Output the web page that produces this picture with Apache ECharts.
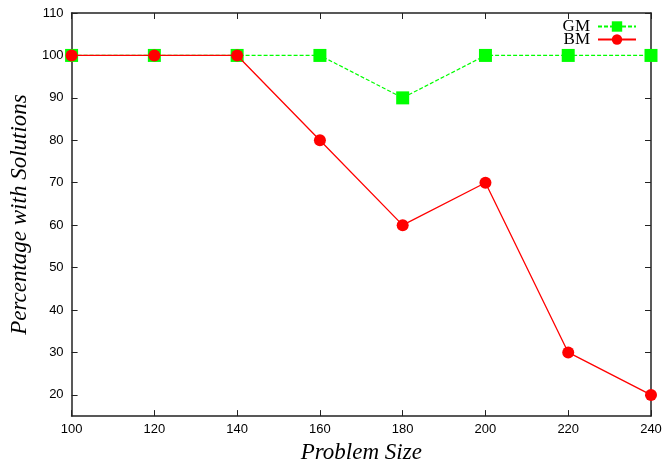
<!DOCTYPE html>
<html>
<head>
<meta charset="utf-8">
<script src="https://cdn.jsdelivr.net/npm/echarts@6/dist/echarts.min.js"></script>
<style>html,body{margin:0;padding:0;background:#fff;}#c{width:665px;height:469px;}</style>
</head>
<body>
<div id="c"></div>
<script>
var problemSizes = [100, 120, 140, 160, 180, 200, 220, 240];
var gmValues = [100, 100, 100, 100, 90, 100, 100, 100];
var bmValues = [100, 100, 100, 80, 60, 70, 30, 20];
var yTicks = [20, 30, 40, 50, 60, 70, 80, 90, 100, 110];

function pairs(xs, ys) { return xs.map(function (x, i) { return [x, ys[i]]; }); }

var chart = echarts.init(document.getElementById('c'), null, { renderer: 'canvas' });
var axisCol = '#222';
var tickStyle = { show: true, inside: true, length: 6, lineStyle: { color: axisCol, width: 1 } };
chart.setOption({
  animation: false,
  backgroundColor: '#fff',
  grid: { left: 70, right: 14, top: 13, bottom: 44, containLabel: false },
  legend: {
    orient: 'vertical', right: 23, top: 13, align: 'right', itemGap: -4,
    itemWidth: 38, itemHeight: 13,
    textStyle: { fontFamily: 'Liberation Serif', fontSize: 17, color: '#000', padding: [0, 3, 0, 0] },
    data: ['GM', 'BM']
  },
  xAxis: [{
    type: 'value', min: 100, max: 240, interval: 20, position: 'bottom',
    name: 'Problem Size', nameLocation: 'middle', nameGap: 24,
    nameTextStyle: { fontFamily: 'Liberation Serif', fontStyle: 'italic', fontSize: 23, color: '#000' },
    axisLine: { show: true, onZero: false, lineStyle: { color: axisCol, width: 1.5 } },
    axisTick: tickStyle, splitLine: { show: false },
    axisLabel: { fontFamily: 'Liberation Sans', fontSize: 13, color: '#000', margin: 7 }
  }, {
    type: 'value', min: 100, max: 240, interval: 20, position: 'top',
    axisLine: { show: true, onZero: false, lineStyle: { color: axisCol, width: 1.5 } },
    axisTick: tickStyle, splitLine: { show: false }, axisLabel: { show: false }
  }],
  yAxis: [{
    type: 'value', min: 15, max: 110, position: 'left',
    name: 'Percentage with Solutions', nameLocation: 'middle', nameGap: 39,
    nameTextStyle: { fontFamily: 'Liberation Serif', fontStyle: 'italic', fontSize: 23, color: '#000' },
    axisLine: { show: true, onZero: false, lineStyle: { color: axisCol, width: 1.5 } },
    axisTick: { show: true, inside: true, length: 6, lineStyle: { color: axisCol, width: 1 }, customValues: yTicks },
    splitLine: { show: false },
    axisLabel: { fontFamily: 'Liberation Sans', fontSize: 13, color: '#000', margin: 8, customValues: yTicks }
  }, {
    type: 'value', min: 15, max: 110, position: 'right',
    axisLine: { show: true, onZero: false, lineStyle: { color: axisCol, width: 1.5 } },
    axisTick: { show: true, inside: true, length: 6, lineStyle: { color: axisCol, width: 1 }, customValues: yTicks },
    splitLine: { show: false }, axisLabel: { show: false }
  }],
  series: [{
    name: 'GM', type: 'line', data: pairs(problemSizes, gmValues),
    symbol: 'rect', symbolSize: 13, z: 2,
    itemStyle: { color: '#00ff00' },
    lineStyle: { color: '#00ff00', width: 1.2, type: [4, 2] }
  }, {
    name: 'BM', type: 'line', data: pairs(problemSizes, bmValues),
    symbol: 'circle', symbolSize: 12, z: 3,
    itemStyle: { color: '#ff0000' },
    lineStyle: { color: '#ff0000', width: 1.3 }
  }]
});
</script>
</body>
</html>
